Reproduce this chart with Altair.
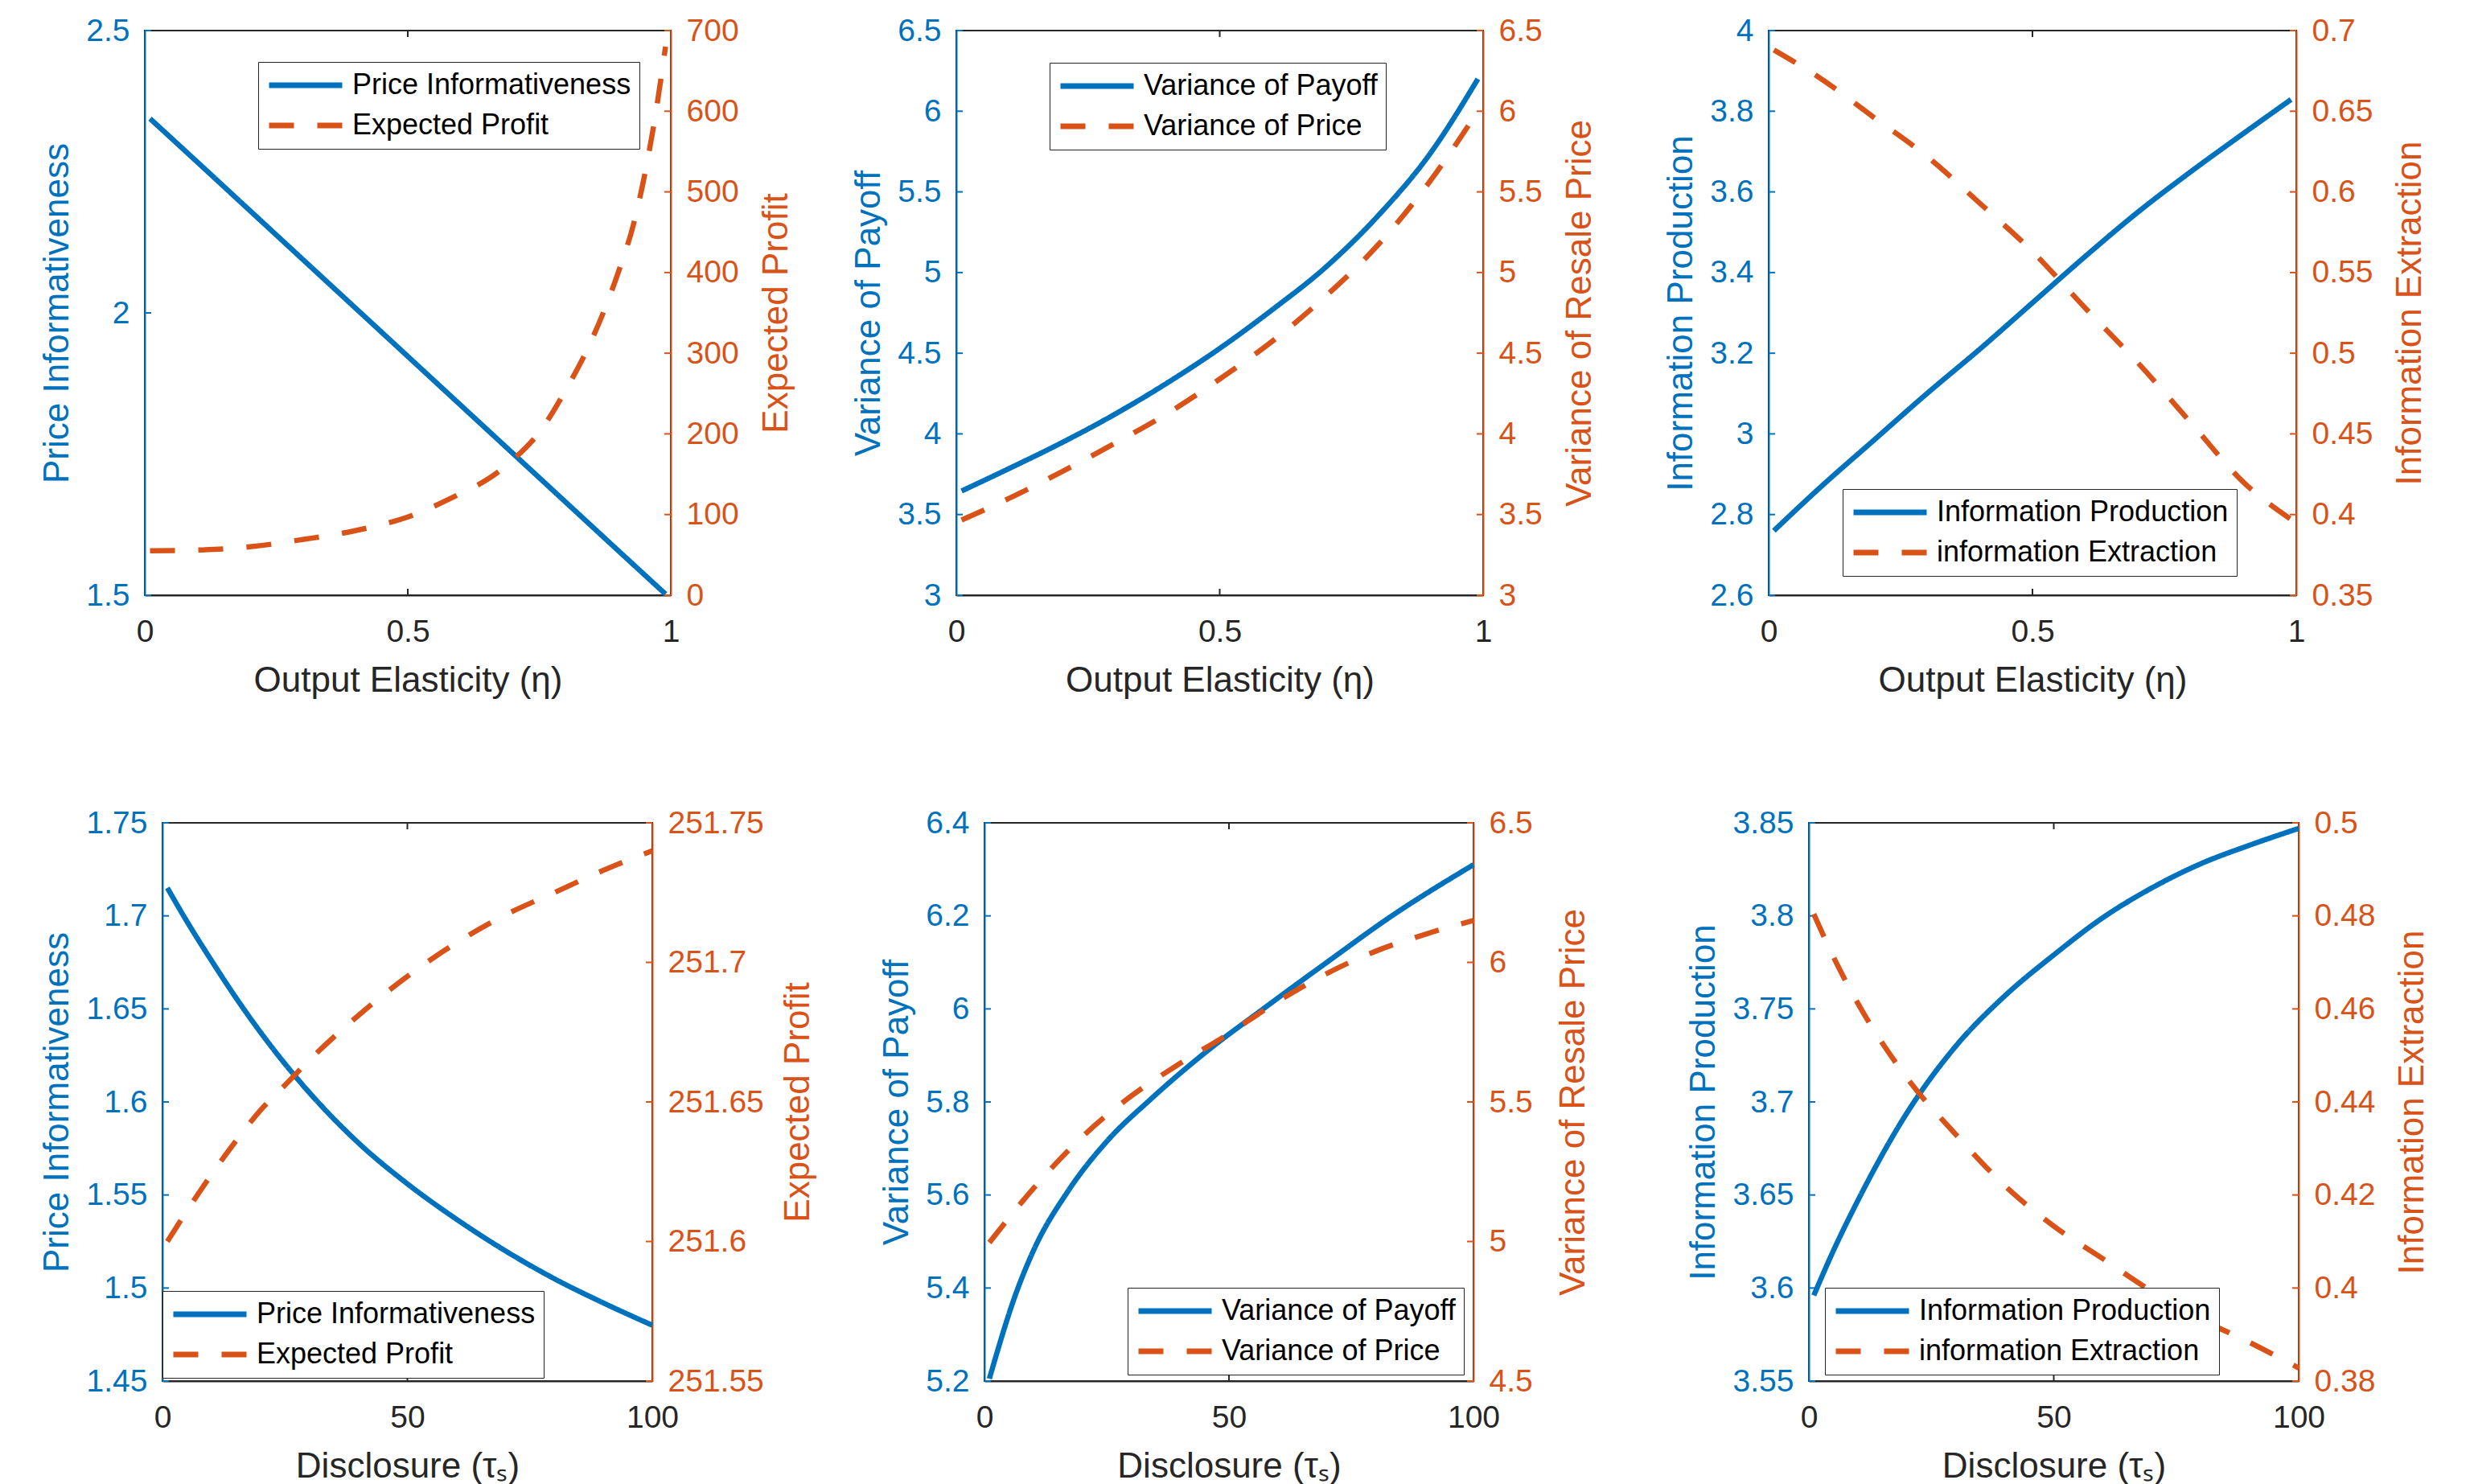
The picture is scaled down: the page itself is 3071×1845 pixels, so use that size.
import altair as alt
import pandas as pd

BLUE = "#0072BD"
ORANGE = "#D95319"
DARK = "#262626"
FONT = "Liberation Sans"

# ---------------- data ----------------
# Panel 1: Output elasticity -> price informativeness / expected profit
eta_p1a = [0.01, 0.1, 0.2, 0.3, 0.4, 0.5, 0.6, 0.7, 0.8, 0.9, 0.99]
price_info_eta = [2.344, 2.267, 2.181, 2.095, 2.009, 1.923, 1.837, 1.751, 1.665, 1.579, 1.502]
eta_p1b = [0.01, 0.1, 0.2, 0.3, 0.4, 0.5, 0.6, 0.65, 0.7, 0.75, 0.8, 0.85, 0.9, 0.93, 0.95, 0.97, 0.99]
profit_eta = [55, 56, 60, 69, 80, 97, 126, 143, 168, 202, 254, 317, 400, 462, 520, 592, 680]

# Panels 2, 3: common eta grid
eta = [0.01, 0.1, 0.2, 0.3, 0.4, 0.5, 0.6, 0.7, 0.8, 0.9, 0.99]
var_payoff_eta = [3.646, 3.785, 3.945, 4.12, 4.315, 4.53, 4.77, 5.03, 5.35, 5.74, 6.20]
var_price_eta = [3.466, 3.60, 3.765, 3.94, 4.125, 4.34, 4.575, 4.85, 5.17, 5.57, 6.00]
info_prod_eta = [2.76, 2.87, 2.985, 3.10, 3.21, 3.325, 3.44, 3.55, 3.65, 3.745, 3.829]
info_extr_eta = [0.688, 0.670, 0.646, 0.622, 0.593, 0.563, 0.528, 0.494, 0.457, 0.420, 0.397]

# Panel 4: disclosure -> price informativeness / expected profit
tau_p4 = [1, 5, 10, 15, 20, 25, 30, 40, 50, 60, 70, 80, 90, 100]
price_info_tau = [1.715, 1.697, 1.676, 1.656, 1.6375, 1.6205, 1.605, 1.578, 1.556, 1.537, 1.520, 1.505, 1.492, 1.480]
profit_tau = [251.600, 251.611, 251.624, 251.636, 251.647, 251.656, 251.665, 251.681, 251.695, 251.707, 251.717, 251.725, 251.733, 251.740]

# Panel 5: disclosure -> variance of payoff / variance of price
tau_p5a = [1, 6.5, 10, 17.2, 25, 33.9, 45, 57, 70, 83.3, 100]
var_payoff_tau = [5.205, 5.39, 5.48, 5.61, 5.715, 5.805, 5.905, 6.00, 6.10, 6.20, 6.31]
tau_p5b = [1, 10, 20, 30, 40, 50, 56, 60, 70, 80, 90, 100]
var_price_tau = [4.996, 5.19, 5.375, 5.521, 5.638, 5.745, 5.815, 5.86, 5.96, 6.04, 6.10, 6.15]

# Panel 6: disclosure -> information production / extraction
tau_p6a = [1, 5, 10, 20, 30, 40, 50, 60, 70, 80, 90, 100]
info_prod_tau = [3.596, 3.62, 3.647, 3.694, 3.73, 3.757, 3.779, 3.799, 3.815, 3.828, 3.838, 3.847]
tau_p6b = [1, 5, 10, 20, 30, 40, 50, 60, 70, 80, 90, 100]
info_extr_tau = [0.4804, 0.4712, 0.4612, 0.4452, 0.433, 0.422, 0.4133, 0.4063, 0.3993, 0.3933, 0.3883, 0.3828]

# tick labels
eta_ticks = [0, 0.5, 1]
tau_ticks = [0, 50, 100]
p1_left_ticks = [1.5, 2, 2.5]
p1_right_ticks = [0, 100, 200, 300, 400, 500, 600, 700]
p2_left_ticks = [3, 3.5, 4, 4.5, 5, 5.5, 6, 6.5]
p2_right_ticks = [3, 3.5, 4, 4.5, 5, 5.5, 6, 6.5]
p3_left_ticks = [2.6, 2.8, 3, 3.2, 3.4, 3.6, 3.8, 4]
p3_right_ticks = [0.35, 0.4, 0.45, 0.5, 0.55, 0.6, 0.65, 0.7]
p4_left_ticks = [1.45, 1.5, 1.55, 1.6, 1.65, 1.7, 1.75]
p4_right_ticks = [251.55, 251.6, 251.65, 251.7, 251.75]
p5_left_ticks = [5.2, 5.4, 5.6, 5.8, 6, 6.2, 6.4]
p5_right_ticks = [4.5, 5, 5.5, 6, 6.5]
p6_left_ticks = [3.55, 3.6, 3.65, 3.7, 3.75, 3.8, 3.85]
p6_right_ticks = [0.38, 0.4, 0.42, 0.44, 0.46, 0.48, 0.5]

TOP_H = 702
BOT_H = 694
TICK = 8
TITLE_H = 44
TP_L = 14
LABEL_EXPR = "format(datum.value, '~g')"


def panel(xl, yl, xr, yr, names, xdom, xticks, xtitle,
          ldom, lticks, ltitle, rdom, rticks, rtitle, w, h, lx, ly,
          ext_l, ext_r, tp_r):
    left_df = pd.DataFrame({"x": xl, "v": yl, "series": names[0]})
    right_df = pd.DataFrame({"x": xr, "v": yr, "series": names[1]})

    leg = alt.Legend(
        title=None, orient="none", legendX=lx, legendY=ly, direction="vertical",
        symbolType="stroke", symbolSize=8281, symbolStrokeWidth=7, clipHeight=38,
        labelFont=FONT, labelFontSize=36, labelColor="black", labelOffset=9,
        labelLimit=1000, rowPadding=12, padding=10,
        strokeColor=DARK, fillColor="white",
    )
    color = alt.Color("series:N", scale=alt.Scale(domain=names, range=[BLUE, ORANGE]), legend=leg)
    dash = alt.StrokeDash("series:N", scale=alt.Scale(domain=names, range=[[1, 0], [31, 29]]), legend=leg)

    xscale = alt.Scale(domain=xdom, nice=False, zero=False)
    lscale = alt.Scale(domain=ldom, nice=False, zero=False)
    rscale = alt.Scale(domain=rdom, nice=False, zero=False)

    xaxis = alt.Axis(title=xtitle, values=xticks, labelExpr=LABEL_EXPR, orient="bottom",
                     domainColor=DARK, labelColor=DARK, titleColor=DARK,
                     labelPadding=26, titlePadding=19)
    laxis = alt.Axis(title=ltitle, values=lticks, labelExpr=LABEL_EXPR, orient="left",
                     domainColor=BLUE, labelColor=BLUE, titleColor=BLUE,
                     labelPadding=19, titlePadding=TP_L, minExtent=ext_l, maxExtent=ext_l)
    raxis = alt.Axis(title=rtitle, values=rticks, labelExpr=LABEL_EXPR, orient="right",
                     domainColor=ORANGE, labelColor=ORANGE, titleColor=ORANGE,
                     labelPadding=19, titlePadding=tp_r, titleAngle=270, titleBaseline="top",
                     minExtent=ext_r, maxExtent=ext_r)

    left_line = alt.Chart(left_df).mark_line(strokeWidth=6.5, interpolate="monotone", strokeCap="butt").encode(
        x=alt.X("x:Q", scale=xscale, axis=xaxis),
        y=alt.Y("v:Q", scale=lscale, axis=laxis),
        color=color, strokeDash=dash,
    )
    right_line = alt.Chart(right_df).mark_line(strokeWidth=6.5, interpolate="monotone", strokeCap="butt").encode(
        x=alt.X("x:Q", scale=xscale, axis=xaxis),
        y=alt.Y("v:Q", scale=rscale, axis=raxis),
        color=color, strokeDash=dash,
    )

    # inward tick marks (same axis objects so the shared axes merge)
    inner_x = [t for t in xticks if t not in (xdom[0], xdom[1])]
    xt_df = pd.DataFrame({"x": inner_x})
    x_bottom = alt.Chart(xt_df).mark_rule(color=DARK, strokeWidth=2).encode(
        x=alt.X("x:Q", scale=xscale, axis=xaxis), y=alt.value(h - TICK), y2=alt.value(h))
    x_top = alt.Chart(xt_df).mark_rule(color=DARK, strokeWidth=2).encode(
        x=alt.X("x:Q", scale=xscale, axis=xaxis), y=alt.value(0), y2=alt.value(TICK))
    l_ticks = alt.Chart(pd.DataFrame({"v": lticks})).mark_rule(color=BLUE, strokeWidth=2).encode(
        y=alt.Y("v:Q", scale=lscale, axis=laxis), x=alt.value(0), x2=alt.value(TICK))
    r_ticks = alt.Chart(pd.DataFrame({"v": rticks})).mark_rule(color=ORANGE, strokeWidth=2).encode(
        y=alt.Y("v:Q", scale=rscale, axis=raxis), x=alt.value(w - TICK), x2=alt.value(w))

    left_group = alt.layer(left_line, l_ticks, x_bottom, x_top)
    right_group = alt.layer(right_line, r_ticks)
    return alt.layer(left_group, right_group).resolve_scale(y="independent").properties(width=w, height=h)


XT_ETA = "Output Elasticity (η)"
XT_TAU = "Disclosure (τₛ)"

# axis extents (label padding + widest label) and right-title paddings
E = {"p1": (73, 84, 25), "p2": (73, 73, 25), "p3": (73, 95, 24),
     "p4": (95, 138, 21), "p5": (73, 73, 29), "p6": (95, 95, 24)}

p1 = panel(eta_p1a, price_info_eta, eta_p1b, profit_eta, ["Price Informativeness", "Expected Profit"],
           [0, 1], eta_ticks, XT_ETA, [1.5, 2.5], p1_left_ticks, "Price Informativeness",
           [0, 700], p1_right_ticks, "Expected Profit", 654, TOP_H, 141, 39, *E["p1"])
p2 = panel(eta, var_payoff_eta, eta, var_price_eta, ["Variance of Payoff", "Variance of Price"],
           [0, 1], eta_ticks, XT_ETA, [3, 6.5], p2_left_ticks, "Variance of Payoff",
           [3, 6.5], p2_right_ticks, "Variance of Resale Price", 655, TOP_H, 116, 40, *E["p2"])
p3 = panel(eta, info_prod_eta, eta, info_extr_eta, ["Information Production", "information Extraction"],
           [0, 1], eta_ticks, XT_ETA, [2.6, 4], p3_left_ticks, "Information Production",
           [0.35, 0.7], p3_right_ticks, "Information Extraction", 656, TOP_H, 92, 570, *E["p3"])
p4 = panel(tau_p4, price_info_tau, tau_p4, profit_tau, ["Price Informativeness", "Expected Profit"],
           [0, 100], tau_ticks, XT_TAU, [1.45, 1.75], p4_left_ticks, "Price Informativeness",
           [251.55, 251.75], p4_right_ticks, "Expected Profit", 609, BOT_H, 0, 582, *E["p4"])
p5 = panel(tau_p5a, var_payoff_tau, tau_p5b, var_price_tau, ["Variance of Payoff", "Variance of Price"],
           [0, 100], tau_ticks, XT_TAU, [5.2, 6.4], p5_left_ticks, "Variance of Payoff",
           [4.5, 6.5], p5_right_ticks, "Variance of Resale Price", 608, BOT_H, 178, 578, *E["p5"])
p6 = panel(tau_p6a, info_prod_tau, tau_p6b, info_extr_tau, ["Information Production", "information Extraction"],
           [0, 100], tau_ticks, XT_TAU, [3.55, 3.85], p6_left_ticks, "Information Production",
           [0.38, 0.5], p6_right_ticks, "Information Extraction", 609, BOT_H, 20, 578, *E["p6"])


def L(k):
    return E[k][0] + TP_L + TITLE_H


def R(k):
    return E[k][1] + E[k][2] + TITLE_H


s12 = 353 - R("p1") - L("p2")
s23 = 353 - R("p2") - L("p3")
s45 = 411 - R("p4") - L("p5")
s56 = 415 - R("p5") - L("p6")


def spacer():
    return alt.Chart(pd.DataFrame({"a": []})).mark_point().encode(
        x=alt.X("a:Q", axis=None), y=alt.Y("a:Q", axis=None)
    ).properties(width=1, height=10, view=alt.ViewBackground(strokeOpacity=0))


IND = dict(color="independent", strokeDash="independent")
row1_inner = alt.hconcat(alt.hconcat(p1, p2, spacing=s12).resolve_scale(**IND), p3, spacing=s23).resolve_scale(**IND)
row2_inner = alt.hconcat(alt.hconcat(p4, p5, spacing=s45).resolve_scale(**IND), p6, spacing=s56).resolve_scale(**IND)
# small invisible spacers shift the lower row 23 px to the right of the upper row
row1 = alt.hconcat(spacer(), row1_inner, spacing=1).resolve_scale(**IND)
row2 = alt.hconcat(spacer(), row2_inner, spacing=2 + L("p1") + 21 - L("p4")).resolve_scale(**IND)

chart = alt.vconcat(row1, row2, spacing=134).resolve_scale(**IND).properties(
    padding={"left": 38, "top": 10, "right": 5, "bottom": 5}
).configure_view(
    stroke=DARK, strokeWidth=2
).configure_axis(
    labelFont=FONT, titleFont=FONT, labelFontSize=39, titleFontSize=44,
    titleFontWeight="normal", grid=False, ticks=False, labelOverlap=False,
    labelFlush=False, domainWidth=2
)

chart.save("out.html", embed_options={"renderer": "svg", "actions": False})
